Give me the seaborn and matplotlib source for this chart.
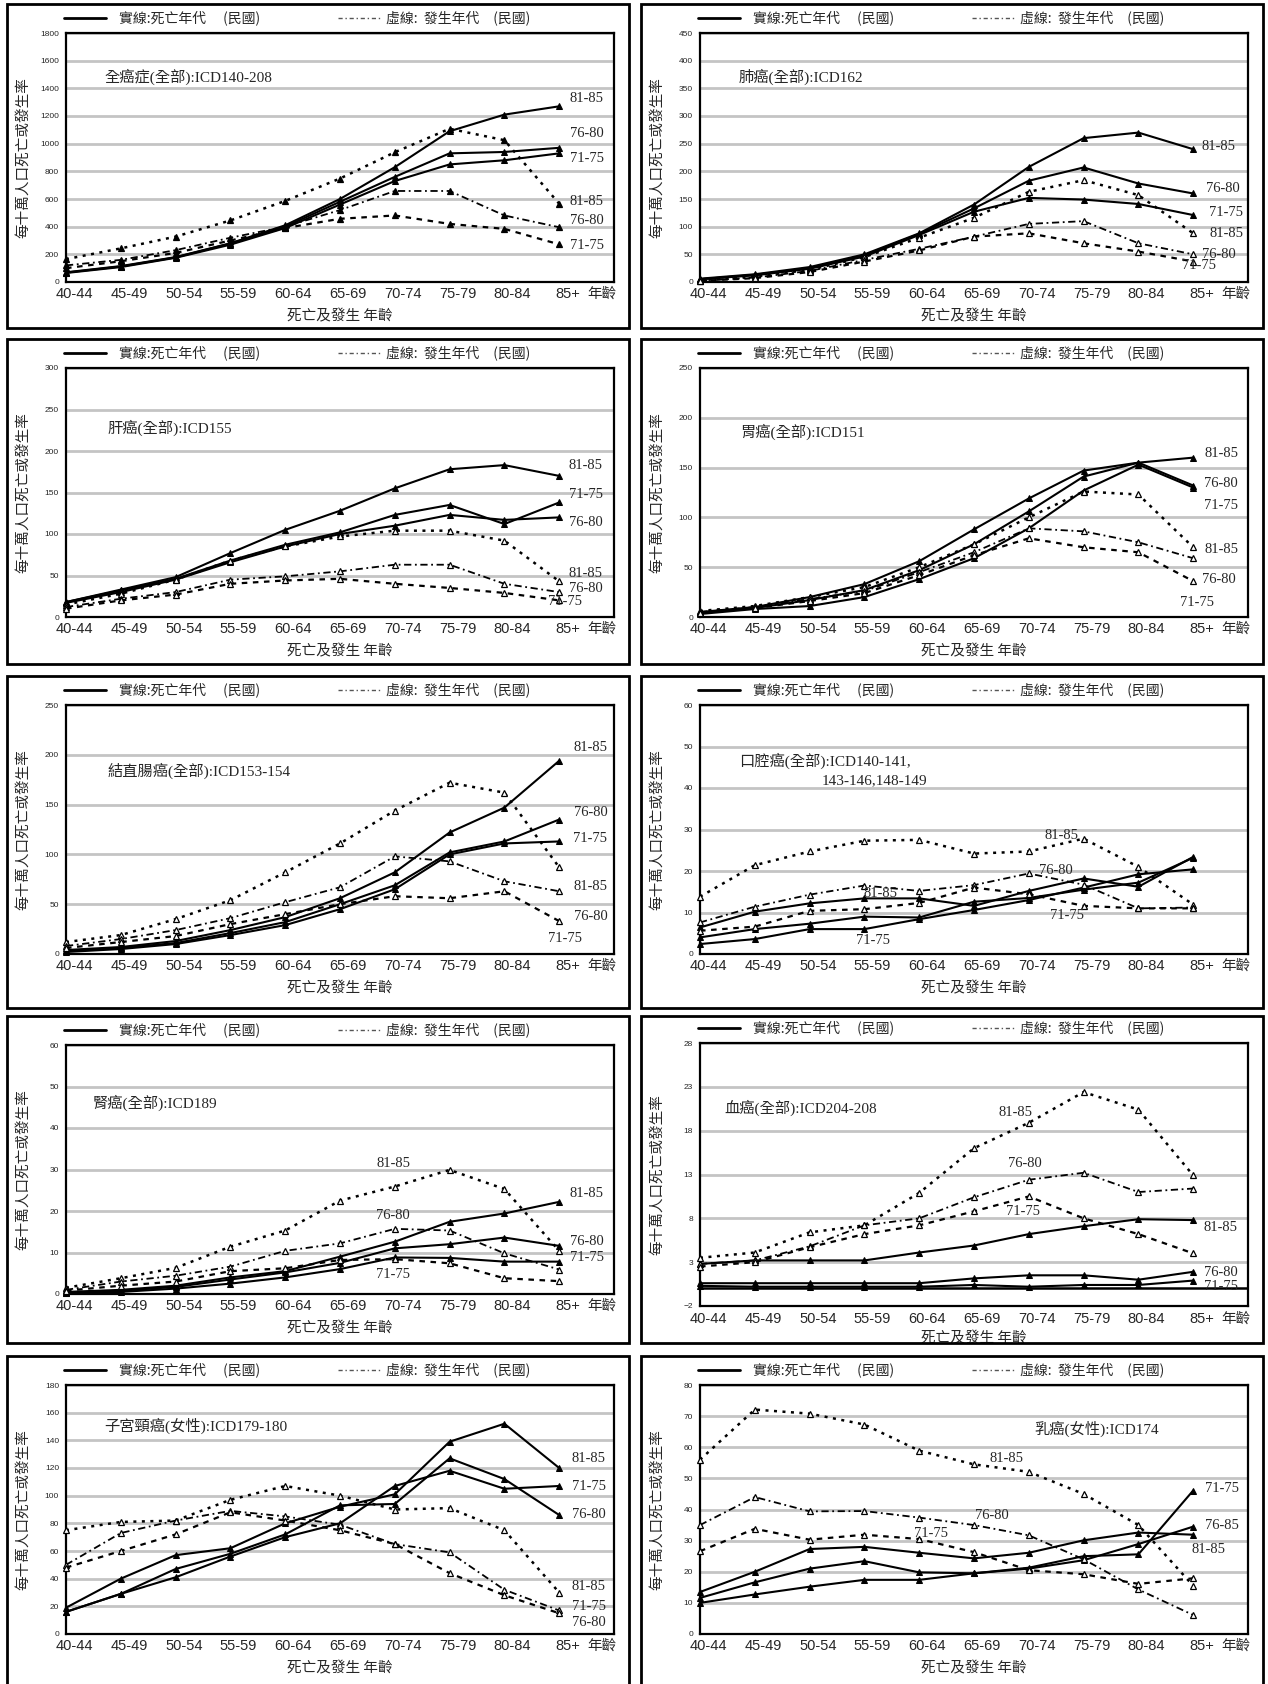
import matplotlib
matplotlib.use("Agg")
import matplotlib.pyplot as plt
import seaborn as sns
import pandas as pd
from matplotlib import font_manager
from matplotlib.lines import Line2D
from matplotlib.patches import Rectangle

# 年齡組
AGES = ["40-44", "45-49", "50-54", "55-59", "60-64", "65-69", "70-74", "75-79", "80-84", "85+"]

# 全癌症
all_d81 = [70, 115, 180, 280, 410, 600, 830, 1090, 1210, 1270]
all_d76 = [68, 112, 178, 278, 400, 580, 760, 930, 940, 970]
all_d71 = [65, 108, 175, 270, 390, 560, 730, 850, 880, 930]
all_i81 = [165, 243, 328, 445, 586, 748, 938, 1108, 1025, 566]
all_i76 = [120, 160, 230, 320, 400, 520, 658, 658, 481, 396]
all_i71 = [100, 150, 210, 300, 390, 457, 481, 420, 384, 272]

# 肺癌
lung_d81 = [6, 14, 27, 50, 88, 140, 208, 260, 270, 240]
lung_d76 = [5, 13, 25, 48, 87, 133, 183, 207, 178, 160]
lung_d71 = [5, 12, 24, 46, 85, 127, 152, 149, 141, 121]
lung_i81 = [3, 10, 22, 45, 80, 116, 163, 184, 157, 88]
lung_i76 = [2, 8, 20, 40, 60, 82, 105, 110, 70, 50]
lung_i71 = [2, 7, 18, 37, 57, 82, 88, 70, 55, 37]

# 肝癌
liver_d81 = [18, 33, 48, 77, 105, 128, 155, 178, 183, 170]
liver_d76 = [17, 30, 45, 66, 85, 100, 110, 123, 117, 120]
liver_d71 = [18, 32, 46, 68, 87, 102, 123, 135, 112, 138]
liver_i81 = [15, 28, 45, 68, 85, 97, 104, 104, 92, 43]
liver_i76 = [12, 22, 30, 45, 49, 55, 63, 63, 40, 30]
liver_i71 = [10, 20, 27, 40, 44, 46, 40, 35, 29, 20]

# 胃癌
stom_d81 = [5, 10, 20, 33, 56, 88, 119, 147, 155, 160]
stom_d76 = [4, 9, 17, 27, 47, 73, 106, 141, 155, 132]
stom_d71 = [3, 8, 11, 20, 38, 59, 89, 127, 153, 130]
stom_i81 = [6, 11, 20, 30, 50, 73, 100, 126, 123, 70]
stom_i76 = [5, 10, 18, 26, 45, 65, 89, 86, 75, 59]
stom_i71 = [4, 9, 16, 24, 42, 62, 79, 70, 65, 36]

# 結直腸癌
crc_d81 = [4, 7, 13, 24, 37, 56, 82, 122, 147, 194]
crc_d76 = [3, 6, 11, 21, 32, 50, 69, 102, 113, 135]
crc_d71 = [2, 5, 10, 19, 29, 45, 65, 100, 111, 113]
crc_i81 = [12, 19, 35, 54, 82, 111, 144, 172, 162, 87]
crc_i76 = [8, 15, 24, 36, 52, 67, 98, 93, 73, 63]
crc_i71 = [6, 12, 18, 30, 40, 50, 58, 56, 63, 33]

# 口腔癌
oral_d81 = [6.4, 10.2, 12.2, 13.4, 13.4, 11.6, 15.2, 18.2, 16.2, 23.4]
oral_d76 = [4.0, 6.0, 7.3, 9.0, 8.8, 12.6, 13.5, 15.5, 17.2, 23.2]
oral_d71 = [2.4, 3.6, 6.0, 6.0, 8.4, 10.6, 13.0, 16.0, 19.2, 20.4]
oral_i81 = [13.8, 21.4, 24.7, 27.3, 27.5, 24.2, 24.7, 27.8, 21.0, 11.9]
oral_i76 = [7.6, 11.4, 14.3, 16.5, 15.2, 16.6, 19.4, 16.7, 11.0, 11.2]
oral_i71 = [5.6, 6.6, 10.4, 10.8, 12.3, 16.0, 14.4, 11.6, 11.0, 11.0]

# 腎癌
kid_d81 = [0.5, 1.0, 2.0, 4.0, 5.5, 9.0, 12.6, 17.4, 19.4, 22.2]
kid_d76 = [0.3, 0.8, 1.7, 3.5, 5.2, 7.5, 11.0, 12.0, 13.6, 11.6]
kid_d71 = [0.2, 0.5, 1.3, 2.5, 4.0, 6.0, 8.8, 8.7, 7.8, 7.8]
kid_i81 = [1.5, 3.8, 6.3, 11.4, 15.3, 22.5, 25.9, 29.9, 25.3, 10.4]
kid_i76 = [1.0, 3.0, 4.4, 6.6, 10.4, 12.2, 15.7, 15.3, 9.8, 5.9]
kid_i71 = [0.8, 2.0, 3.0, 5.5, 6.2, 8.2, 8.4, 7.4, 3.8, 3.1]

# 血癌
leuk_d81 = [2.8, 3.2, 3.2, 3.2, 4.1, 4.9, 6.2, 7.1, 7.9, 7.8]
leuk_d76 = [0.6, 0.6, 0.6, 0.6, 0.6, 1.15, 1.5, 1.5, 1.0, 1.9]
leuk_d71 = [0.3, 0.2, 0.2, 0.2, 0.2, 0.4, 0.2, 0.4, 0.4, 0.9]
leuk_i81 = [3.5, 4.1, 6.4, 7.2, 10.9, 16.0, 18.9, 22.4, 20.4, 12.9]
leuk_i76 = [2.8, 3.2, 4.8, 7.2, 8.0, 10.4, 12.4, 13.2, 11.0, 11.4]
leuk_i71 = [2.5, 3.0, 4.7, 6.2, 7.2, 8.8, 10.5, 8.0, 6.2, 4.0]

# 子宮頸癌
cerv_d81 = [19, 40, 57, 62, 80, 92, 101, 139, 152, 120]
cerv_d76 = [16, 29, 47, 58, 72, 93, 94, 127, 112, 86]
cerv_d71 = [16, 29, 41, 56, 70, 80, 107, 118, 105, 107]
cerv_i81 = [75, 81, 82, 97, 107, 100, 90, 91, 75, 30]
cerv_i76 = [50, 73, 82, 89, 85, 79, 65, 59, 32, 17]
cerv_i71 = [48, 60, 72, 88, 82, 75, 65, 44, 28, 15]

# 乳癌
brst_d81 = [13.5, 20, 27.3, 28, 26.1, 24.3, 26.1, 30.1, 32.6, 31.9]
brst_d76 = [11.6, 16.6, 21, 23.4, 19.8, 19.5, 21, 23.7, 28.9, 34.5]
brst_d71 = [10, 12.7, 15.2, 17.4, 17.4, 19.5, 21.3, 25, 25.6, 46.1]
brst_i81 = [56, 72.1, 70.8, 67.3, 58.9, 54.5, 52.1, 45, 35, 15.5]
brst_i76 = [35, 44, 39.4, 39.5, 37.4, 35, 31.7, 24, 14.3, 6.1]
brst_i71 = [26.6, 33.8, 30.3, 31.9, 30.5, 26.3, 20.5, 19.2, 16.1, 17.9]

W, H = 1268, 1684

sns.set_theme(style="white")
plt.rcParams["font.family"] = ["Noto Sans CJK TC", "DejaVu Sans"]

names = {f.name for f in font_manager.fontManager.ttflist}
NARROW = "Liberation Sans Narrow" if "Liberation Sans Narrow" in names else "Liberation Sans"
SERIF = ["Liberation Serif", "Noto Sans CJK TC"]

# 面板設定 (行, 列)
panels = [
    dict(row=0, col=0, title="全癌症(全部):ICD140-208", tpos=(0.071, 0.823),
         ylim=(0, 1800), ystep=200,
         death=[all_d81, all_d76, all_d71], inc=[all_i81, all_i76, all_i71], inc_fill=True,
         labels=[(9.5, 1330, "81-85"), (9.5, 1070, "76-80"), (9.5, 895, "71-75"),
                 (9.5, 583, "81-85"), (9.5, 445, "76-80"), (9.5, 267, "71-75")]),
    dict(row=0, col=1, title="肺癌(全部):ICD162", tpos=(0.070, 0.822),
         ylim=(0, 450), ystep=50,
         death=[lung_d81, lung_d76, lung_d71], inc=[lung_i81, lung_i76, lung_i71],
         labels=[(9.47, 244, "81-85"), (9.54, 169, "76-80"), (9.6, 125, "71-75"),
                 (9.6, 88, "81-85"), (9.47, 49, "76-80"), (9.1, 29, "71-75")]),
    dict(row=1, col=0, title="肝癌(全部):ICD155", tpos=(0.076, 0.76),
         ylim=(0, 300), ystep=50,
         death=[liver_d81, liver_d76, liver_d71], inc=[liver_i81, liver_i76, liver_i71],
         labels=[(9.48, 182, "81-85"), (9.48, 147, "71-75"), (9.48, 114, "76-80"),
                 (9.48, 52, "81-85"), (9.48, 34, "76-80"), (9.11, 19, "71-75")]),
    dict(row=1, col=1, title="胃癌(全部):ICD151", tpos=(0.074, 0.742),
         ylim=(0, 250), ystep=50,
         death=[stom_d81, stom_d76, stom_d71], inc=[stom_i81, stom_i76, stom_i71],
         labels=[(9.51, 164, "81-85"), (9.51, 134, "76-80"), (9.51, 112, "71-75"),
                 (9.51, 68, "81-85"), (9.47, 38, "76-80"), (9.07, 15, "71-75")]),
    dict(row=2, col=0, title="結直腸癌(全部):ICD153-154", tpos=(0.076, 0.734),
         ylim=(0, 250), ystep=50,
         death=[crc_d81, crc_d76, crc_d71], inc=[crc_i81, crc_i76, crc_i71],
         labels=[(9.57, 207, "81-85"), (9.57, 142, "76-80"), (9.57, 116, "71-75"),
                 (9.57, 68, "81-85"), (9.57, 38, "76-80"), (9.1, 16, "71-75")]),
    dict(row=2, col=1, title="口腔癌(全部):ICD140-141,", tpos=(0.072, 0.775),
         title2=("143-146,148-149", (0.222, 0.695)),
         ylim=(0, 60), ystep=10,
         death=[oral_d81, oral_d76, oral_d71], inc=[oral_i81, oral_i76, oral_i71],
         labels=[(6.6, 28.5, "81-85"), (6.5, 20.2, "76-80"), (3.3, 14.6, "81-85"),
                 (6.7, 9.2, "71-75"), (3.15, 3.2, "71-75")]),
    dict(row=3, col=0, title="腎癌(全部):ICD189", tpos=(0.048, 0.766),
         ylim=(0, 60), ystep=10,
         death=[kid_d81, kid_d76, kid_d71], inc=[kid_i81, kid_i76, kid_i71],
         labels=[(5.97, 31.5, "81-85"), (5.97, 19.0, "76-80"), (5.97, 4.6, "71-75"),
                 (9.5, 24.3, "81-85"), (9.5, 12.6, "76-80"), (9.5, 8.8, "71-75")]),
    dict(row=3, col=1, title="血癌(全部):ICD204-208", tpos=(0.044, 0.753),
         ylim=(-2, 28), ystep=5, zero_line=True, tall=True,
         death=[leuk_d81, leuk_d76, leuk_d71], inc=[leuk_i81, leuk_i76, leuk_i71],
         labels=[(5.75, 20.1, "81-85"), (5.93, 14.3, "76-80"), (5.9, 8.8, "71-75"),
                 (9.5, 6.9, "81-85"), (9.5, 1.85, "76-80"), (9.5, 0.2, "71-75")]),
    dict(row=4, col=0, title="子宮頸癌(女性):ICD179-180", tpos=(0.07, 0.835),
         ylim=(0, 180), ystep=20,
         death=[cerv_d81, cerv_d76, cerv_d71], inc=[cerv_i81, cerv_i76, cerv_i71],
         labels=[(9.54, 126.6, "81-85"), (9.54, 106.9, "71-75"), (9.54, 86.7, "76-80"),
                 (9.54, 34, "81-85"), (9.54, 19.7, "71-75"), (9.54, 8.3, "76-80")]),
    dict(row=4, col=1, title="乳癌(女性):ICD174", tpos=(0.611, 0.823),
         ylim=(0, 80), ystep=10,
         death=[brst_d81, brst_d76, brst_d71], inc=[brst_i81, brst_i76, brst_i71],
         labels=[(5.59, 56.4, "81-85"), (5.33, 38, "76-80"), (4.22, 32.4, "71-75"),
                 (9.52, 46.9, "71-75"), (9.52, 35, "76-85"), (9.28, 27.3, "81-85")]),
]

BOX_LEFT = [7, 641]
BOX_TOP = [4, 339, 676, 1016, 1356]
BOX_BOTTOM = [328, 664, 1008, 1343, 1720]
INC_DASHES = [(0, (1.2, 2.2)), (0, (4, 2, 1, 2)), (0, (2.5, 2.5))]
INC_LW = [1.8, 1.3, 1.6]


def fx(px):
    return px / W


def fy(py):
    return 1 - py / H


fig = plt.figure(figsize=(W / 100, H / 100), dpi=100)

for p in panels:
    bl = BOX_LEFT[p["col"]]
    bt = BOX_TOP[p["row"]]
    bb = BOX_BOTTOM[p["row"]]

    # 外框
    fig.add_artist(Rectangle((fx(bl), fy(bb)), fx(622), (bb - bt) / H, transform=fig.transFigure,
                             fill=False, edgecolor="black", lw=2.0))

    left, right = bl + 59, bl + 607
    top = bt + (27 if p.get("tall") else 29)
    bottom = bt + (290 if p.get("tall") else 278)
    axw, axh = right - left, bottom - top
    ax = fig.add_axes([fx(left), fy(bottom), axw / W, axh / H])

    x = list(range(len(AGES)))
    for vals in p["death"]:
        df = pd.DataFrame({"age": x, "rate": vals})
        sns.lineplot(data=df, x="age", y="rate", ax=ax, color="black", lw=1.5,
                     marker="^", markersize=5, markerfacecolor="black", markeredgecolor="black",
                     clip_on=False, zorder=4)
    for vals, ls, lw in zip(p["inc"], INC_DASHES, INC_LW):
        df = pd.DataFrame({"age": x, "rate": vals})
        sns.lineplot(data=df, x="age", y="rate", ax=ax, color="black", lw=lw, linestyle=ls,
                     marker="^", markersize=5,
                     markerfacecolor="black" if p.get("inc_fill") else "white",
                     markeredgecolor="black", markeredgewidth=0.9, clip_on=False, zorder=4)

    if p.get("zero_line"):
        ax.axhline(0, color="black", lw=1.8, zorder=3)

    y0, y1 = p["ylim"]
    ax.set_xlim(0, 10)
    ax.set_ylim(y0, y1)
    ax.set_yticks(list(range(y0, y1 + 1, p["ystep"])))
    ax.tick_params(axis="y", length=0, pad=5, labelsize=6)
    for lbl in ax.get_yticklabels():
        lbl.set_fontfamily(NARROW)
    ax.grid(axis="y", color="#c4c4c4", lw=2)
    ax.grid(axis="x", visible=False)
    ax.set_axisbelow(True)
    for s in ax.spines.values():
        s.set_color("black")
        s.set_linewidth(1.6)

    ax.set_xticks([i + 0.15 for i in x] + [9.78])
    ax.set_xticklabels(AGES + ["年齡"])
    ax.tick_params(axis="x", length=0, pad=4 if p.get("tall") else 3.5, labelsize=10.5)
    for lbl in ax.get_xticklabels():
        lbl.set_fontfamily([NARROW, "Noto Sans CJK TC"])

    ax.set_xlabel("")
    ax.set_ylabel("每十萬人口死亡或發生率", fontsize=10.5)
    ax.yaxis.set_label_coords(-36 / axw, 0.5)

    xl_off = 32 if p.get("tall") else 34
    ax.text(0.5, -xl_off / axh, "死亡及發生 年齡", transform=ax.transAxes, ha="center", va="center",
            fontsize=10.5, bbox=dict(facecolor="white", edgecolor="none", pad=0.3), zorder=5)

    # 標題
    ax.text(p["tpos"][0], p["tpos"][1], p["title"], transform=ax.transAxes, ha="left", va="center",
            fontsize=11, family=SERIF)
    if "title2" in p:
        t2, pos2 = p["title2"]
        ax.text(pos2[0], pos2[1], t2, transform=ax.transAxes, ha="left", va="center",
                fontsize=11, family=SERIF)

    for lx, ly, txt in p["labels"]:
        ax.text(lx, ly, txt, ha="center", va="center", fontsize=10.5, family=SERIF, zorder=6)

    # 圖例
    ly_px = top - 15
    fig.add_artist(Line2D([fx(left - 2), fx(left + 40)], [fy(ly_px), fy(ly_px)],
                          transform=fig.transFigure, color="black", lw=2))
    fig.text(fx(left + 53), fy(ly_px), "實線:死亡年代　 (民國)", ha="left", va="center", fontsize=10)
    fig.add_artist(Line2D([fx(left + 272), fx(left + 315)], [fy(ly_px), fy(ly_px)],
                          transform=fig.transFigure, color="#555555", lw=1.0,
                          linestyle=(0, (3, 2, 1, 2))))
    fig.text(fx(left + 320), fy(ly_px), "虛線:  發生年代　(民國)", ha="left", va="center", fontsize=10)

plt.savefig("out.png", dpi=100)
plt.close()
